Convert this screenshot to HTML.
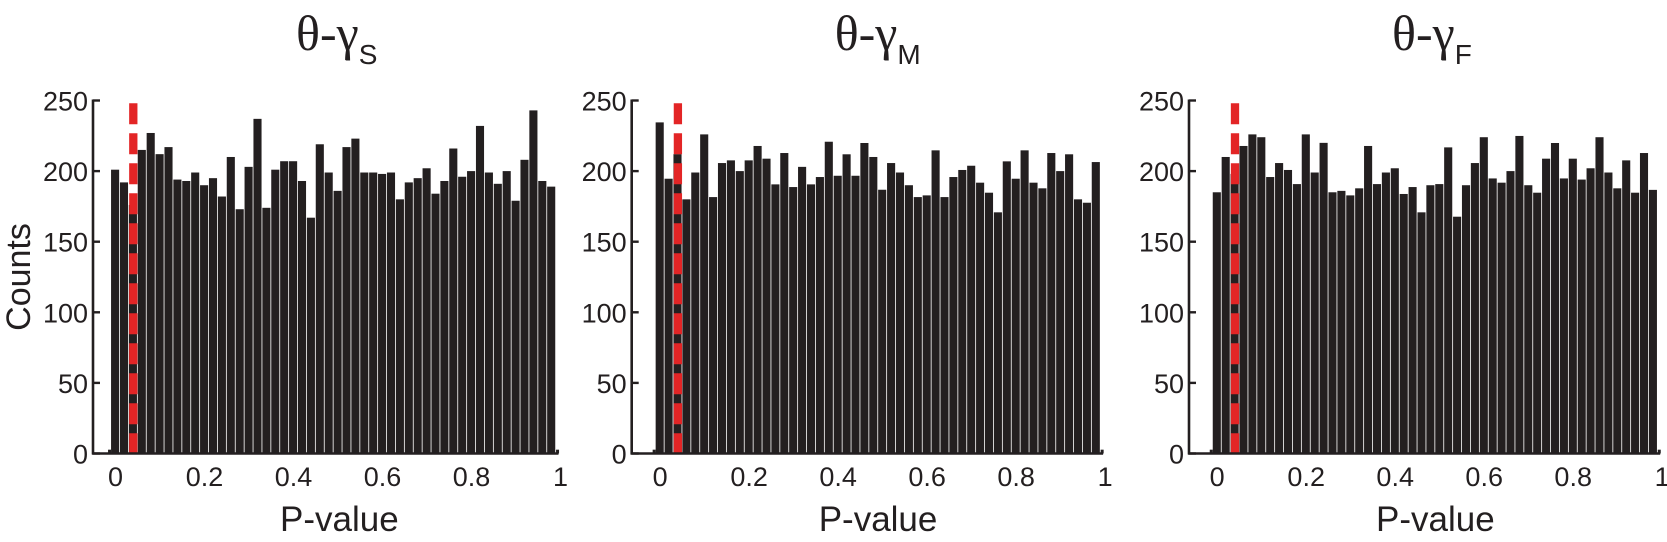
<!DOCTYPE html>
<html><head><meta charset="utf-8"><style>
html,body{margin:0;padding:0;background:#fff;}
svg{display:block;}
text{font-family:"Liberation Sans",sans-serif;fill:#231f20;}
.serif{font-family:"Liberation Serif",serif;}
</style></head><body>
<svg id="chart" width="1667" height="542" viewBox="0 0 1667 542" xmlns="http://www.w3.org/2000/svg"></svg>
<script>
const countsS = [201,192,176,215,227,212,217,194,193,199,190,195,182,210,173,203,237,174,201,207,207,193,167,219,199,186,217,223,199,199,198,199,180,192,195,202,184,193,216,196,200,232,199,191,200,179,208,243,193,189];
const countsM = [234.5,194.6,212,180,199,226,181.6,205.7,207.6,200,207.6,217.8,208.8,190.6,212.8,188.7,203,190.6,195.8,220.8,196.7,211.9,196.7,219.9,210,186.8,205.7,199,190,181.6,182.8,214.7,181.6,195.8,200.8,203.8,191.8,184.7,170.8,206.9,194.6,214.7,191.8,187.8,212.8,200,211.9,180,177.6,206.4];
const countsF = [185,210,198,217.8,226,224,195.8,205.7,200.8,190.8,226,199,220,185,186,182.8,187.8,217.8,190.8,199,202,183.8,188.7,170.8,190,190.8,216.8,167.7,190,205.7,224,194.8,191.8,200,224.9,190,184.7,208.8,219.9,194.8,208.8,194,202,224,199,187.8,207.6,184.7,212.8,186.7];
const edgeCounts = [2,2];
const binCenters = Array.from({length:50},(_,i)=>i*0.02);
const yTicks = [0,50,100,150,200,250];
const xTicks = [0,0.2,0.4,0.6,0.8,1];
const xTickLabels = ["0","0.2","0.4","0.6","0.8","1"];
const thresholds = [0.04,0.04,0.04];
const subscripts = ["S","M","F"];

const NS="http://www.w3.org/2000/svg";
const svg=document.getElementById('chart');
function mk(tag,attrs,parent){const e=document.createElementNS(NS,tag);for(const k in attrs)e.setAttribute(k,attrs[k]);(parent||svg).appendChild(e);return e;}

const Y0=453.5, PXU=1.412, BW=8.9;
function yS(v){return Y0-v*PXU;}
const panels=[{axis:93,x0:115.5,data:countsS},{axis:631.7,x0:660.1,data:countsM},{axis:1189,x0:1217.2,data:countsF}];

panels.forEach((p,pi)=>{
  const xS=v=>p.x0+v*BW*50;
  const g=mk('g',{});
  
  
  p.data.forEach((c,i)=>{
    const cx=xS(binCenters[i]);
    const r=mk('rect',{x:cx-BW/2,y:yS(c),width:BW-0.8,height:Y0-yS(c),fill:'#231f20'},g);
    
    
  });
  [xS(-0.02)+BW/2-3, xS(0.98)+BW/2].forEach((sx,k)=>{
    const s=mk('rect',{x:sx,y:yS(edgeCounts[k])-1,width:3,height:Y0-yS(edgeCounts[k])+1,fill:'#231f20'},g);
    
    
  });
  const tx=xS(thresholds[pi]);
  const rl=mk('line',{x1:tx,y1:103.3,x2:tx,y2:Y0,stroke:'#e32526','stroke-width':8.3,'stroke-dasharray':'21 9'},g);
  
  
  const ya=mk('line',{x1:p.axis,y1:yS(250)-1,x2:p.axis,y2:Y0+1,stroke:'#231f20','stroke-width':2.6},g);
  
  
  const xa=mk('line',{x1:p.axis-1,y1:Y0,x2:xS(1)-2,y2:Y0,stroke:'#231f20','stroke-width':2.6},g);
  
  
  yTicks.forEach(v=>{
    const t=mk('line',{x1:p.axis,y1:yS(v),x2:p.axis+7,y2:yS(v),stroke:'#231f20','stroke-width':2.4},g);
    
    
    const l=mk('text',{x:p.axis-5,y:yS(v)+10,'text-anchor':'end','font-size':27},g);
    l.textContent=String(v);
    
    
  });
  xTicks.forEach((v,i)=>{
    const l=mk('text',{x:xS(v),y:486,'text-anchor':'middle','font-size':27},g);
    l.textContent=xTickLabels[i];
    
    
  });
  const xl=mk('text',{x:p.axis+187,y:531,'font-size':35},g);
  xl.textContent='P-value';
  
  
  const ti=mk('text',{x:p.axis+203,y:50,'font-size':50,'class':'serif'},g);
  
  
  const t1=mk('tspan',{},ti); t1.textContent='θ-γ';
  const t2=mk('tspan',{dy:14,'font-size':28,style:'font-family:"Liberation Sans",sans-serif'},ti); t2.textContent=subscripts[pi];
});
const cl=mk('text',{x:0,y:0,'font-size':34,'text-anchor':'middle',transform:'translate(30,277) rotate(-90)'});
cl.textContent='Counts';


</script>
</body></html>
